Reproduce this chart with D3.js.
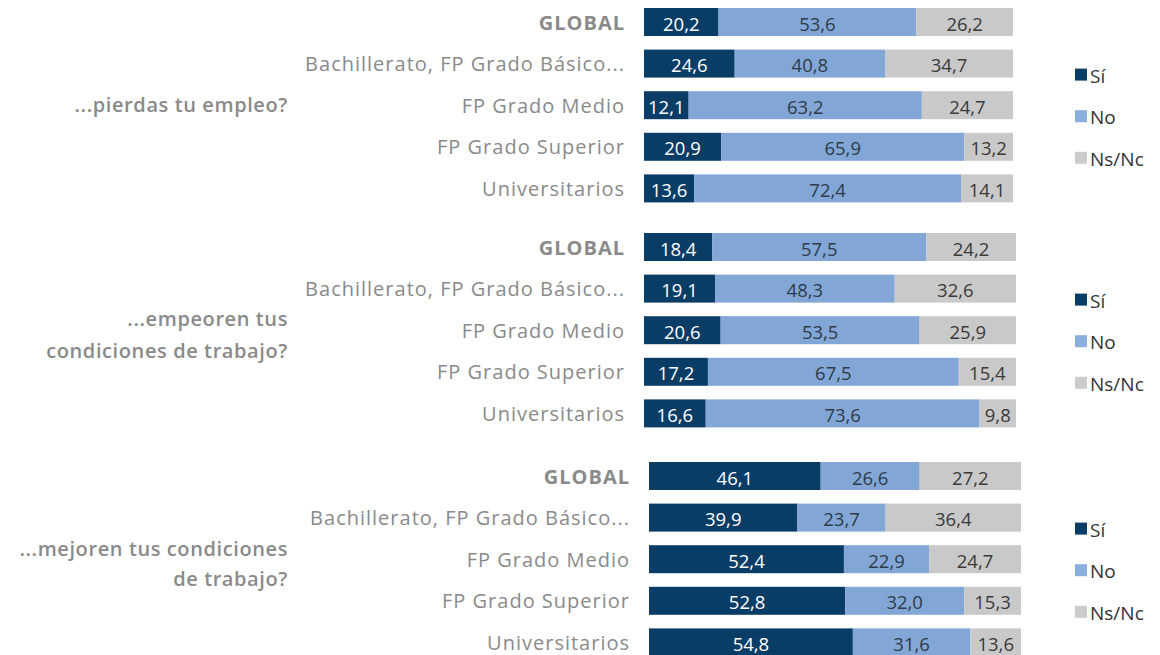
<!doctype html>
<html lang="es">
<head>
    <meta charset="utf-8"/>
    <title>Encuesta - empleo</title>
    <script src="https://d3js.org/d3.v7.min.js"></script>
    <style>
        body {
            margin: 0;
            padding: 0;
            background: #ffffff;
        }

        svg text {
            font-family: 'Open Sans', 'Noto Sans', sans-serif;
        }
    </style>
</head>
<body>
<script>

    // categorias (filas de cada bloque)
    const categories = [
        'GLOBAL',
        'Bachillerato, FP Grado Básico...',
        'FP Grado Medio',
        'FP Grado Superior',
        'Universitarios'
    ]

    // las tres series de la leyenda
    const seriesNames = ['Sí', 'No', 'Ns/Nc']
    const seriesKeys = ['si', 'no', 'ns']

    // preguntas (una por bloque)
    const questions = [
        ['...pierdas tu empleo?'],
        ['...empeoren tus', 'condiciones de trabajo?'],
        ['...mejoren tus condiciones', 'de trabajo?']
    ]

    // valores: Sí, No, Ns/Nc para cada categoria
    const pierdasSi = [20.2, 24.6, 12.1, 20.9, 13.6]
    const pierdasNo = [53.6, 40.8, 63.2, 65.9, 72.4]
    const pierdasNs = [26.2, 34.7, 24.7, 13.2, 14.1]

    const empeorenSi = [18.4, 19.1, 20.6, 17.2, 16.6]
    const empeorenNo = [57.5, 48.3, 53.5, 67.5, 73.6]
    const empeorenNs = [24.2, 32.6, 25.9, 15.4, 9.8]

    const mejorenSi = [46.1, 39.9, 52.4, 52.8, 54.8]
    const mejorenNo = [26.6, 23.7, 22.9, 32.0, 31.6]
    const mejorenNs = [27.2, 36.4, 24.7, 15.3, 13.6]

    const colors = ['#0a3d66', '#82a7d7', '#c9c9c9']
    const legendColors = ['#0a3d66', '#8caede', '#cccccc']
    const textColors = ['#ffffff', '#2f3b48', '#3a3a3a']

    // posicion de cada bloque en la pagina
    const panels = [
        {si: pierdasSi, no: pierdasNo, ns: pierdasNs, left: 644, right: 1013, top: 8, q: questions[0], qGap: 32},
        {si: empeorenSi, no: empeorenNo, ns: empeorenNs, left: 644, right: 1016, top: 233, q: questions[1], qGap: 32},
        {si: mejorenSi, no: mejorenNo, ns: mejorenNs, left: 649, right: 1021, top: 462, q: questions[2], qGap: 30}
    ]

    const width = 1160
    const height = 655
    const rowStep = 41.6
    const barHeight = 28

    const svg = d3.select('body')
        .append('svg')
        .attr('width', width)
        .attr('height', height)

    const fmt = v => d3.format('.1f')(v).replace('.', ',')

    panels.forEach(function (p) {

        // tabla que usa d3.stack
        const rows = categories.map(function (c, i) {
            return {cat: c, si: p.si[i], no: p.no[i], ns: p.ns[i]}
        })

        const stacked = d3.stack()
            .keys(seriesKeys)
            .offset(d3.stackOffsetExpand)(rows)

        const x = d3.scaleLinear()
            .domain([0, 1])
            .range([p.left, p.right])

        // el rango acaba en el borde inferior de la ultima barra
        const y = d3.scaleBand()
            .domain(categories)
            .range([p.top, p.top + rowStep * (categories.length - 1) + barHeight])
            .paddingInner((rowStep - barHeight) / rowStep)
            .paddingOuter(0)
            .align(0)

        const g = svg.append('g')

        // barras
        const layer = g.selectAll('g.layer')
            .data(stacked)
            .enter()
            .append('g')
            .attr('class', 'layer')

        layer.selectAll('rect')
            .data(d => d)
            .enter()
            .append('rect')
            .attr('x', d => x(d[0]))
            .attr('y', d => y(d.data.cat))
            .attr('width', d => x(d[1]) - x(d[0]))
            .attr('height', y.bandwidth())
            .attr('fill', function () {
                return colors[seriesKeys.indexOf(d3.select(this.parentNode).datum().key)]
            })

        // etiquetas de valores
        layer.selectAll('text')
            .data(d => d.map(v => Object.assign(v, {key: d.key})))
            .enter()
            .append('text')
            .attr('x', d => (x(d[0]) + x(d[1])) / 2)
            .attr('y', d => y(d.data.cat) + y.bandwidth() / 2 + 1)
            .attr('text-anchor', 'middle')
            .attr('dominant-baseline', 'central')
            .attr('font-size', 18.5)
            .attr('fill', d => textColors[seriesKeys.indexOf(d.key)])
            .text(d => fmt(d.data[d.key]))

        // nombres de categorias
        g.selectAll('text.cat')
            .data(categories)
            .enter()
            .append('text')
            .attr('class', 'cat')
            .attr('x', p.left - 19)
            .attr('y', d => y(d) + y.bandwidth() / 2)
            .attr('text-anchor', 'end')
            .attr('dominant-baseline', 'central')
            .attr('font-size', 20)
            .attr('letter-spacing', 1)
            .attr('font-weight', d => d === 'GLOBAL' ? 700 : 400)
            .attr('fill', '#8a8a8a')
            .text(d => d)

        // pregunta
        const midY = y(categories[2]) + y.bandwidth() / 2
        const q = g.append('text')
            .attr('x', 288)
            .attr('text-anchor', 'end')
            .attr('font-size', 20)
            .attr('letter-spacing', 0.6)
            .attr('font-weight', 600)
            .attr('fill', '#8a8a8a')
        q.selectAll('tspan')
            .data(p.q)
            .enter()
            .append('tspan')
            .attr('x', 288)
            .attr('y', (d, i) => midY + 7 + (p.q.length - 1) * 5 + (i - (p.q.length - 1) / 2) * p.qGap)
            .text(d => d)

        // leyenda
        const leg = g.selectAll('g.leg')
            .data(seriesNames)
            .enter()
            .append('g')
            .attr('class', 'leg')
            .attr('transform', (d, i) => 'translate(1075,' + (y(categories[1]) + y.bandwidth() / 2 + 11 + i * rowStep) + ')')

        leg.append('rect')
            .attr('x', 0)
            .attr('y', -6)
            .attr('width', 12)
            .attr('height', 12)
            .attr('fill', (d, i) => legendColors[i])

        leg.append('text')
            .attr('x', 15)
            .attr('y', 1)
            .attr('dominant-baseline', 'central')
            .attr('font-size', 19)
            .attr('fill', '#333333')
            .text(d => d)
    })

</script>
</body>
</html>
